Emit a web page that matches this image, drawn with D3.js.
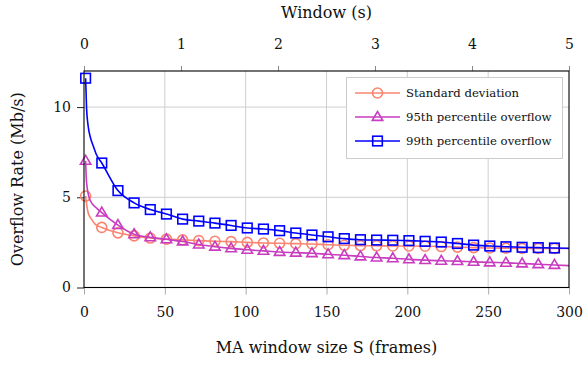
<!DOCTYPE html>
<html>
<head>
<meta charset="utf-8">
<script src="https://cdn.jsdelivr.net/npm/d3@7/dist/d3.min.js"></script>
<style>
  html, body { margin: 0; padding: 0; background: #fff; }
  svg text { font-family: "DejaVu Serif", serif; fill: #111; }
</style>
</head>
<body>
<svg id="chart" width="587" height="365"></svg>
<script>
// ---- data ----
const frames = [1, 11, 21, 31, 41, 51, 61, 71, 81, 91, 101, 111, 121, 131, 141,
                151, 161, 171, 181, 191, 201, 211, 221, 231, 241, 251, 261, 271, 281, 291];
const stdDev = [5.07, 3.33, 3.03, 2.86, 2.74, 2.68, 2.64, 2.60, 2.56, 2.54, 2.50, 2.47, 2.45, 2.43, 2.41,
                2.37, 2.34, 2.32, 2.31, 2.30, 2.30, 2.29, 2.27, 2.24, 2.21, 2.19, 2.18, 2.17, 2.17, 2.16];
const p95 = [7.02, 4.15, 3.46, 2.95, 2.78, 2.67, 2.55, 2.38, 2.26, 2.17, 2.09, 2.03, 1.97, 1.93, 1.90,
             1.84, 1.79, 1.72, 1.66, 1.62, 1.56, 1.52, 1.48, 1.46, 1.42, 1.39, 1.37, 1.33, 1.29, 1.25];
const p99 = [11.6, 6.90, 5.37, 4.69, 4.32, 4.07, 3.79, 3.68, 3.57, 3.44, 3.30, 3.24, 3.15, 3.02, 2.91,
             2.81, 2.71, 2.65, 2.63, 2.62, 2.60, 2.56, 2.52, 2.44, 2.35, 2.30, 2.26, 2.23, 2.21, 2.19];
// extra curve points between marks (frame, value) and the line end at 300 frames
const stdHead = [[1.8, 4.5], [2.7, 4.1], [4.5, 3.8], [7, 3.5]];
const p95Head = [[1.6, 5.8], [3.7, 4.85], [7.8, 4.4]];
const p99Head = [[1.6, 9.9], [2.5, 9.0], [4, 8.3], [5.5, 7.9], [7.5, 7.4]];
const tailFrame = 300;
const stdTail = 2.16, p95Tail = 1.21, p99Tail = 2.17;

const seriesNames = ["Standard deviation", "95th percentile overflow", "99th percentile overflow"];
const xTicks = [0, 50, 100, 150, 200, 250, 300];
const topTicks = [0, 1, 2, 3, 4, 5];
const yTicks = [0, 5, 10];
const fps = 60;

// ---- layout ----
const svg = d3.select("#chart");
const L = 84, R = 569, T = 71, B = 287.5;
const x = d3.scaleLinear().domain([0, 300]).range([L, R]);
const xTop = d3.scaleLinear().domain([0, 300 / fps]).range([L, R]);
const y = d3.scaleLinear().domain([0, 12]).range([B, T]);
const FONT = "DejaVu Serif";

// grid
const grid = svg.append("g").attr("stroke", "#cfcfcf").attr("stroke-width", 1);
xTicks.filter(d => d > 0 && d < 300).forEach(d => {
  grid.append("line").attr("x1", x(d)).attr("x2", x(d)).attr("y1", T).attr("y2", B);
});
yTicks.filter(d => d > 0).forEach(d => {
  grid.append("line").attr("x1", L).attr("x2", R).attr("y1", y(d)).attr("y2", y(d));
});

// axes
const fs = 14;
const gx = svg.append("g").attr("transform", `translate(0,${B})`)
  .call(d3.axisBottom(x).tickValues(xTicks).tickSize(7).tickPadding(13));
gx.attr("font-family", FONT);
gx.select(".domain").remove();
gx.selectAll("line").attr("stroke", "#aaa");
gx.selectAll("text").style("font-size", fs + "px");

const gt = svg.append("g").attr("transform", `translate(0,${T})`)
  .call(d3.axisTop(xTop).tickValues(topTicks).tickSize(5).tickPadding(17).tickFormat(d3.format("d")));
gt.attr("font-family", FONT);
gt.select(".domain").remove();
gt.selectAll("line").attr("stroke", "#888");
gt.selectAll("text").style("font-size", fs + "px");

const gy = svg.append("g").attr("transform", `translate(${L},0)`)
  .call(d3.axisLeft(y).tickValues(yTicks).tickSize(7).tickPadding(6));
gy.attr("font-family", FONT);
gy.select(".domain").remove();
gy.selectAll("line").attr("stroke", "#222");
gy.selectAll("text").style("font-size", fs + "px");

// series
const colors = ["#fa8470", "#c93cc0", "#0000ff"];
const values = [stdDev, p95, p99];
const heads = [stdHead, p95Head, p99Head];
const tails = [stdTail, p95Tail, p99Tail];
const line = d3.line().x(d => x(d[0])).y(d => y(d[1])).curve(d3.curveMonotoneX);

svg.append("clipPath").attr("id", "clip")
  .append("rect").attr("x", L).attr("y", T - 10).attr("width", R - L).attr("height", B - T + 10);

function marker(g, kind, cx, cy, color) {
  if (kind === 0) {
    g.append("circle").attr("cx", cx).attr("cy", cy).attr("r", 5)
      .attr("fill", "none").attr("stroke", color).attr("stroke-width", 1.6);
  } else if (kind === 1) {
    const s = 5.5;
    g.append("path")
      .attr("d", `M${cx},${cy - s}L${cx + s * 0.95},${cy + s * 0.62}L${cx - s * 0.95},${cy + s * 0.62}Z`)
      .attr("fill", "none").attr("stroke", color).attr("stroke-width", 1.6).attr("stroke-linejoin", "miter");
  } else {
    const s = 4.8;
    g.append("rect").attr("x", cx - s).attr("y", cy - s).attr("width", 2 * s).attr("height", 2 * s)
      .attr("fill", "none").attr("stroke", color).attr("stroke-width", 1.6);
  }
}

values.forEach((vals, i) => {
  const pts = [[frames[0], vals[0]], ...heads[i], ...frames.slice(1).map((f, j) => [f, vals[j + 1]]), [tailFrame, tails[i]]];
  const g = svg.append("g");
  g.append("path").attr("d", line(pts)).attr("fill", "none")
    .attr("stroke", colors[i]).attr("stroke-width", 1.6).attr("clip-path", "url(#clip)");
  frames.forEach((f, j) => marker(g, i, x(f), y(vals[j]), colors[i]));
});

// frame
svg.append("rect").attr("x", L).attr("y", T).attr("width", R - L).attr("height", B - T)
  .attr("fill", "none").attr("stroke", "#000").attr("stroke-width", 1.1);

// legend
const lg = svg.append("g");
lg.append("rect").attr("x", 346.5).attr("y", 77.5).attr("width", 216).attr("height", 81)
  .attr("fill", "#fff").attr("stroke", "#ccc").attr("stroke-width", 1);
seriesNames.forEach((name, i) => {
  const ly = 93 + i * 24;
  lg.append("line").attr("x1", 355).attr("x2", 400).attr("y1", ly).attr("y2", ly)
    .attr("stroke", colors[i]).attr("stroke-width", 1.6);
  marker(lg, i, 377.5, ly, colors[i]);
  lg.append("text").attr("x", 406).attr("y", ly).attr("dy", "0.35em")
    .style("font-size", "11.7px").text(name);
});

// axis titles
svg.append("text").attr("x", (L + R) / 2).attr("y", 18).attr("text-anchor", "middle")
  .style("font-size", "16px").text("Window (s)");
svg.append("text").attr("x", (L + R) / 2).attr("y", 353).attr("text-anchor", "middle")
  .style("font-size", "16px").text("MA window size S (frames)");
svg.append("text").attr("transform", `translate(23,${(T + B) / 2}) rotate(-90)`).attr("text-anchor", "middle")
  .style("font-size", "16px").text("Overflow Rate (Mb/s)");
</script>
</body>
</html>
